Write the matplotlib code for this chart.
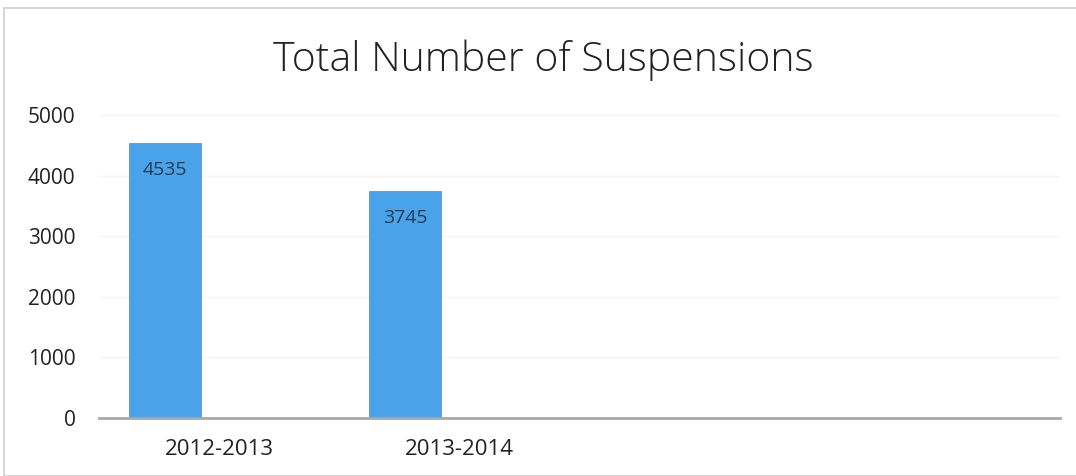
import matplotlib
matplotlib.use("Agg")
import matplotlib.pyplot as plt
from matplotlib.patches import Rectangle

title = "Total Number of Suspensions"
categories = ["2012-2013", "2013-2014", "", ""]
values = [4535, 3745]
yticks = [0, 1000, 2000, 3000, 4000, 5000]

plt.rcParams['font.family'] = ['Open Sans', 'DejaVu Sans']

fig = plt.figure(figsize=(10.76, 4.76), dpi=100)
W, H = 1076, 476
left, right, top, bottom = 99, 1060, 115, 418
ax = fig.add_axes([left / W, 1 - bottom / H, (right - left) / W, (bottom - top) / H])

n = len(categories)
xs = list(range(n))
bar_w = 0.30
offset = -0.227
bx = [xs[i] + offset for i in range(len(values))]
bars = ax.bar(bx, values, width=bar_w, color="#48a3eb", edgecolor="#3a93df",
              linewidth=0.5, zorder=2)
for b, v in zip(bars, values):
    ax.text(b.get_x() + b.get_width() / 2, v - 450, str(v), ha="center", va="center",
            fontsize=14, color="#2b3a4a", zorder=3)

ax.set_xlim(-0.5, n - 0.5)
ax.set_ylim(0, 5000)
ax.set_yticks(yticks)
ax.set_yticklabels([str(t) for t in yticks], fontsize=15, color="#222222")
ax.set_xticks(xs)
ax.set_xticklabels(categories, fontsize=16, color="#222222")
ax.tick_params(axis="y", length=0, pad=17)
ax.tick_params(axis="x", length=0, pad=15)
ax.grid(axis="y", color="#f4f4f4", linewidth=1, zorder=0)
for s in ["left", "right", "top"]:
    ax.spines[s].set_visible(False)
ax.spines["bottom"].set_color("#a8a8a8")
ax.spines["bottom"].set_linewidth(2)
ax.spines["bottom"].set_zorder(3)

fig.text(543 / W, 1 - 71 / H, title, ha="center", va="baseline", fontsize=29.5,
         fontweight="light", color="#222222")

fig.patches.append(Rectangle((4 / W, 0.0), 1.2, 1 - 8 / H, transform=fig.transFigure,
                             fill=False, edgecolor="#cfcfcf", linewidth=1.2))

fig.savefig("out.png", dpi=100)
